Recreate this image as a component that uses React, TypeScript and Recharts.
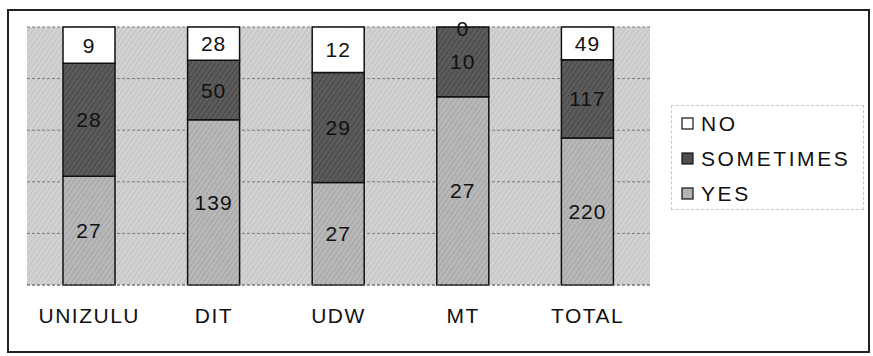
import { BarChart, Bar, XAxis, YAxis, CartesianGrid, LabelList } from "recharts";

const campuses = ["UNIZULU", "DIT", "UDW", "MT", "TOTAL"];
const yesCounts = [27, 139, 27, 27, 220];
const sometimesCounts = [28, 50, 29, 10, 117];
const noCounts = [9, 28, 12, 0, 49];
const shareTicks = [0, 0.2, 0.4, 0.6, 0.8, 1];

const rows = campuses.map((name, i) => ({
  name,
  YES: yesCounts[i],
  SOMETIMES: sometimesCounts[i],
  NO: noCounts[i],
}));

const FONT = "'Liberation Sans', Arial, sans-serif";

const legendItems = [
  { label: "NO", fill: "#ffffff" },
  { label: "SOMETIMES", fill: "#4e4e4e" },
  { label: "YES", fill: "#b4b4b4" },
];

function LegendBox() {
  return (
    <div
      style={{
        position: "absolute",
        left: 671,
        top: 105,
        width: 193,
        height: 105,
        border: "1px dashed #c8c8c8",
        boxSizing: "border-box",
        fontFamily: FONT,
      }}
    >
      {legendItems.map((it) => (
        <div key={it.label} style={{ display: "flex", alignItems: "center", height: 35 }}>
          <svg width={14} height={14} style={{ marginLeft: 9, marginRight: 6 }}>
            <rect x={1} y={1} width={11} height={11} fill={it.fill} stroke="#111" strokeWidth={1.2} />
          </svg>
          <span style={{ fontSize: 21, letterSpacing: 2.6, color: "#111" }}>{it.label}</span>
        </div>
      ))}
    </div>
  );
}

function valueText(cx: number, cy: number, value: number) {
  return (
    <text
      x={cx}
      y={cy}
      textAnchor="middle"
      dominantBaseline="central"
      fill="#111"
      fontSize={21}
      fontFamily={FONT}
      letterSpacing={1}
    >
      {value}
    </text>
  );
}

// draws the value at the centre of its segment
function SegmentLabel(props: any) {
  const { x, y, width, height, value } = props;
  if (value === undefined || value === null) return null;
  return valueText(x + width / 2, y + height / 2, value);
}

// SOMETIMES labels; also puts a zero NO count on top of the stack,
// since a zero-height segment gets no label of its own
function MiddleLabel(props: any) {
  const { x, y, width, height, value, index } = props;
  return (
    <g>
      {valueText(x + width / 2, y + height / 2, value)}
      {noCounts[index] === 0 && valueText(x + width / 2, y + 1, noCounts[index])}
    </g>
  );
}

export default function App() {
  return (
    <div style={{ position: "absolute", left: 0, top: 0, width: 873, height: 356, background: "#fff" }}>
      <div
        style={{
          position: "absolute",
          left: 7,
          top: 9,
          width: 863,
          height: 344,
          border: "2px solid #222",
          boxSizing: "border-box",
        }}
      />
      <BarChart
        width={873}
        height={356}
        data={rows}
        stackOffset="expand"
        margin={{ top: 27, left: 27, right: 223, bottom: 31 }}
        barSize={52}
        style={{ position: "absolute", left: 0, top: 0 }}
      >
        <defs>
          <pattern id="hatchBg" width={4} height={4} patternUnits="userSpaceOnUse" patternTransform="rotate(35)">
            <rect width={4} height={4} fill="#d2d2d2" />
            <line x1={0} y1={0} x2={0} y2={4} stroke="#bdbdbd" strokeWidth={1.5} />
          </pattern>
          <pattern id="hatchMid" width={4} height={4} patternUnits="userSpaceOnUse" patternTransform="rotate(35)">
            <rect width={4} height={4} fill="#b8b8b8" />
            <line x1={0} y1={0} x2={0} y2={4} stroke="#9e9e9e" strokeWidth={1.5} />
          </pattern>
          <pattern id="hatchDark" width={4} height={4} patternUnits="userSpaceOnUse" patternTransform="rotate(35)">
            <rect width={4} height={4} fill="#5c5c5c" />
            <line x1={0} y1={0} x2={0} y2={4} stroke="#404040" strokeWidth={1.5} />
          </pattern>
        </defs>
        <CartesianGrid
          vertical={false}
          fill="url(#hatchBg)"
          stroke="#7a7a7a"
          strokeDasharray="3 2"
        />
        <XAxis
          dataKey="name"
          height={40}
          tickLine={false}
          tickSize={6}
          tickMargin={17}
          axisLine={{ stroke: "#777", strokeDasharray: "3 2" }}
          tick={{ fill: "#111", fontSize: 21, fontFamily: FONT, letterSpacing: 1.5 }}
          interval={0}
        />
        <YAxis
          width={0}
          domain={[0, 1]}
          ticks={shareTicks}
          tick={() => <g />}
          tickLine={false}
          axisLine={{ stroke: "#777", strokeDasharray: "3 2" }}
        />
        <YAxis
          yAxisId="right"
          orientation="right"
          width={0}
          domain={[0, 1]}
          ticks={shareTicks}
          tick={() => <g />}
          tickLine={false}
          axisLine={{ stroke: "#777", strokeDasharray: "3 2" }}
        />
        <Bar dataKey="YES" stackId="a" fill="url(#hatchMid)" stroke="#111" strokeWidth={1.5} isAnimationActive={false}>
          <LabelList dataKey="YES" content={SegmentLabel} />
        </Bar>
        <Bar dataKey="SOMETIMES" stackId="a" fill="url(#hatchDark)" stroke="#111" strokeWidth={1.5} isAnimationActive={false}>
          <LabelList dataKey="SOMETIMES" content={MiddleLabel} />
        </Bar>
        <Bar dataKey="NO" stackId="a" fill="#ffffff" stroke="#111" strokeWidth={1.5} isAnimationActive={false}>
          <LabelList dataKey="NO" content={SegmentLabel} />
        </Bar>
      </BarChart>
      <LegendBox />
    </div>
  );
}
